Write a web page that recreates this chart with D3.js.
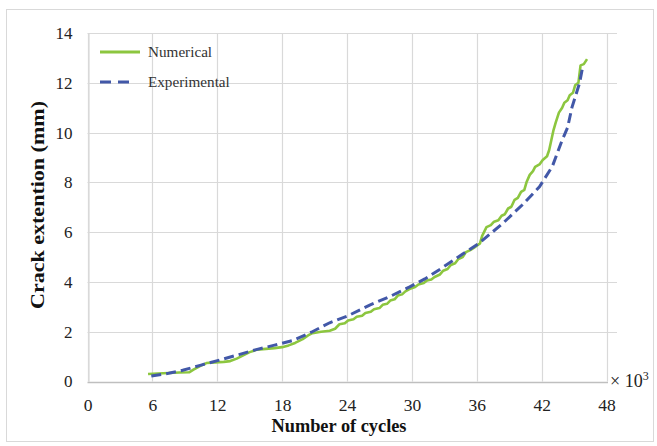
<!DOCTYPE html>
<html>
<head>
<meta charset="utf-8">
<script src="https://cdn.jsdelivr.net/npm/d3@7"></script>
<style>
  html, body { margin: 0; padding: 0; background: #fff; }
  svg { display: block; }
</style>
</head>
<body>
<svg id="chart" width="657" height="446"></svg>
<script>
// Crack extension vs. number of cycles (x in thousands of cycles, y in mm)
const numericalCycles = [5.6, 6.5, 7.5, 8.5, 9.4, 9.8, 10.4, 11.0, 11.8, 12.6, 13.2, 13.8, 14.4, 15.0, 15.7, 16.5, 17.3, 18.0, 18.6, 19.2, 19.9, 20.4, 20.8, 21.6, 22.4, 22.9, 23.3, 23.8, 24.1, 24.6, 24.9, 25.4, 25.7, 26.2, 26.5, 27.0, 27.3, 27.7, 28.0, 28.4, 28.7, 29.1, 29.4, 29.9, 30.3, 30.6, 31.1, 31.4, 31.8, 32.1, 32.6, 32.9, 33.3, 33.6, 34.0, 34.3, 34.7, 35.0, 35.4, 35.9, 36.3, 36.5, 36.9, 37.3, 37.6, 38.0, 38.3, 38.6, 38.9, 39.2, 39.5, 39.8, 40.1, 40.4, 40.6, 40.9, 41.2, 41.4, 41.8, 42.1, 42.5, 42.7, 42.9, 43.1, 43.3, 43.6, 43.9, 44.1, 44.4, 44.6, 44.9, 45.1, 45.4, 45.5, 45.6, 45.9, 46.2];
const numericalCrack = [0.30, 0.32, 0.34, 0.36, 0.37, 0.48, 0.62, 0.74, 0.77, 0.79, 0.82, 0.92, 1.05, 1.18, 1.28, 1.31, 1.34, 1.38, 1.45, 1.55, 1.70, 1.85, 1.94, 2.00, 2.04, 2.12, 2.30, 2.34, 2.45, 2.50, 2.60, 2.64, 2.75, 2.80, 2.90, 2.95, 3.08, 3.12, 3.25, 3.30, 3.45, 3.50, 3.62, 3.74, 3.80, 3.90, 3.96, 4.06, 4.10, 4.20, 4.30, 4.45, 4.52, 4.68, 4.75, 4.92, 5.00, 5.20, 5.28, 5.42, 5.55, 5.85, 6.20, 6.28, 6.42, 6.48, 6.66, 6.72, 6.95, 7.02, 7.30, 7.38, 7.62, 7.70, 8.00, 8.30, 8.45, 8.62, 8.72, 8.90, 9.05, 9.30, 9.70, 10.10, 10.40, 10.80, 11.00, 11.20, 11.30, 11.50, 11.60, 11.90, 12.00, 12.35, 12.70, 12.75, 12.95];

const experimentalCycles = [5.9, 7.5, 8.8, 10.5, 12.2, 14.0, 15.6, 17.3, 19.0, 20.7, 22.4, 24.0, 26.1, 28.0, 29.8, 31.2, 32.5, 34.7, 36.2, 38.4, 40.2, 41.8, 43.0, 43.9, 44.4, 44.8, 45.5, 45.8];
const experimentalCrack = [0.22, 0.33, 0.45, 0.66, 0.86, 1.08, 1.28, 1.46, 1.65, 1.98, 2.36, 2.62, 3.07, 3.42, 3.80, 4.12, 4.48, 5.12, 5.55, 6.35, 7.09, 7.82, 8.65, 9.70, 10.20, 11.00, 11.98, 12.64];

const xTicks = [0, 6, 12, 18, 24, 30, 36, 42, 48];
const yTicks = [0, 2, 4, 6, 8, 10, 12, 14];

const seriesNames = ["Numerical", "Experimental"];
const seriesColors = ["#8cc63f", "#4258a8"];

const svg = d3.select("#chart");
const serif = "'Liberation Serif', 'Times New Roman', serif";

// Outer frame
svg.append("rect")
  .attr("x", 6.5).attr("y", 9.5)
  .attr("width", 647).attr("height", 432)
  .attr("fill", "#fff").attr("stroke", "#d9d9d9");

const x = d3.scaleLinear().domain([0, 48]).range([87.5, 606.5]);
const y = d3.scaleLinear().domain([0, 14]).range([381.5, 33]);

// Gridlines
const grid = svg.append("g");
grid.selectAll("line.h").data(yTicks.filter(d => d > 0)).join("line")
  .attr("x1", x(0)).attr("x2", 617)
  .attr("y1", d => Math.round(y(d)) + 0.5).attr("y2", d => Math.round(y(d)) + 0.5)
  .attr("stroke", "#d9d9d9").attr("stroke-width", 1.2);
grid.selectAll("line.v").data(xTicks).join("line")
  .attr("x1", d => Math.round(x(d)) + 0.5).attr("x2", d => Math.round(x(d)) + 0.5)
  .attr("y1", y(14)).attr("y2", y(0))
  .attr("stroke", "#d9d9d9").attr("stroke-width", 1.2);

// Bottom axis
const xAxis = svg.append("g")
  .attr("transform", `translate(0,${Math.round(y(0)) + 0.5})`)
  .call(d3.axisBottom(x).tickValues(xTicks).tickSize(0).tickPadding(16));
xAxis.select(".domain").attr("stroke", "#bfbfbf").attr("stroke-width", 1.5)
  .attr("d", `M${x(0)},0H608`);
xAxis.selectAll("text")
  .attr("font-family", serif).attr("font-size", 17.5).attr("fill", "#222");

// Left axis
const yAxis = svg.append("g")
  .attr("transform", `translate(${Math.round(x(0)) + 0.5},0)`)
  .call(d3.axisLeft(y).tickValues(yTicks).tickSize(0).tickPadding(16));
yAxis.select(".domain").attr("stroke", "#d9d9d9").attr("stroke-width", 1.2);
yAxis.selectAll("text")
  .attr("font-family", serif).attr("font-size", 17).attr("fill", "#222");

// Multiplier next to the axis end
svg.append("text")
  .attr("x", 610).attr("y", 387)
  .attr("font-family", serif).attr("font-size", 18).attr("fill", "#222")
  .text("× 10")
  .append("tspan").attr("dy", -7).attr("font-size", 12).text("3");

// Axis titles
svg.append("text")
  .attr("x", 339).attr("y", 432)
  .attr("text-anchor", "middle")
  .attr("font-family", serif).attr("font-size", 18).attr("font-weight", "bold").attr("fill", "#111")
  .attr("textLength", 135).attr("lengthAdjust", "spacingAndGlyphs")
  .text("Number of cycles");
svg.append("text")
  .attr("transform", "translate(44,205) rotate(-90)")
  .attr("text-anchor", "middle")
  .attr("font-family", serif).attr("font-size", 18).attr("font-weight", "bold").attr("fill", "#111")
  .attr("textLength", 208).attr("lengthAdjust", "spacingAndGlyphs")
  .text("Crack extention (mm)");

// Curves
const line = d3.line().x(d => x(d[0])).y(d => y(d[1]));
const numerical = numericalCycles.map((c, i) => [c, numericalCrack[i]]);
const experimental = experimentalCycles.map((c, i) => [c, experimentalCrack[i]]);

svg.append("path").datum(numerical)
  .attr("d", line).attr("fill", "none")
  .attr("stroke", seriesColors[0]).attr("stroke-width", 2.6)
  .attr("stroke-linejoin", "round");
svg.append("path").datum(experimental)
  .attr("d", line).attr("fill", "none")
  .attr("stroke", seriesColors[1]).attr("stroke-width", 3)
  .attr("stroke-dasharray", "10,5");

// Legend
const legend = svg.append("g");
seriesNames.forEach((name, i) => {
  const ly = 52 + i * 30;
  legend.append("line")
    .attr("x1", 100).attr("x2", i === 0 ? 140 : 131)
    .attr("y1", ly).attr("y2", ly)
    .attr("stroke", seriesColors[i]).attr("stroke-width", 3)
    .attr("stroke-dasharray", i === 0 ? null : "11,7");
  legend.append("text")
    .attr("x", 148).attr("y", ly + 5)
    .attr("font-family", serif).attr("font-size", 15.2).attr("fill", "#333")
    .text(name);
});
</script>
</body>
</html>
